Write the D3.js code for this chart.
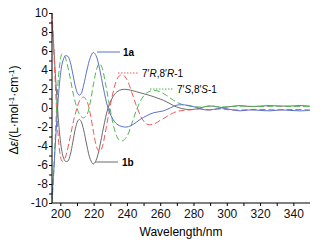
<!DOCTYPE html>
<html>
<head>
<meta charset="utf-8">
<script src="https://cdn.jsdelivr.net/npm/d3@7"></script>
<style>
  body { margin: 0; background: #fff; }
  text { font-family: "Liberation Sans", Arial, sans-serif; }
</style>
</head>
<body>
<div id="chart"></div>
<script>
// wavelengths (nm) and CD values
var wl1a = [195,196,197,198,199,200,201,202,203,204.5,206,207.5,209,210.5,211.5,212.5,214,216,218,219.8,221.5,223.5,226,228.5,231,234,237,240,244,248,252,256,262,266,270,276,282,287,292,297,302,308,314,320,326,332,338,344,350];
var cd1a = [-9.5,-6.8,-3.8,-1.0,1.6,3.4,4.6,5.2,5.5,5.45,4.8,3.6,2.3,1.5,1.35,1.5,2.4,4.0,5.3,5.85,5.5,4.2,2.0,0.1,-1.0,-1.7,-1.95,-2.0,-1.7,-1.2,-0.8,-0.5,-0.3,0.0,0.3,0.3,0.05,-0.2,-0.15,0.0,-0.15,-0.3,-0.2,-0.25,-0.3,-0.2,-0.25,-0.3,-0.25];

var wl1b = [195,196,197,198,199,200,201,202,203,204.5,206,207.5,209,210.5,211.5,212.5,214,216,218,219.8,221.5,223.5,226,228.5,231,234,237,240,244,248,255,262,266,270,276,282,287,292,297,302,308,314,320,326,332,338,344,350];
var cd1b = [9.2,6.6,3.6,0.9,-1.6,-3.4,-4.6,-5.3,-5.6,-5.6,-4.9,-3.6,-2.2,-1.35,-1.2,-1.4,-2.3,-4.0,-5.4,-5.9,-5.5,-4.2,-2.0,-0.1,1.0,1.7,1.95,1.95,1.8,1.6,1.25,0.8,0.45,0.1,-0.15,-0.1,0.15,0.2,0.05,0.15,0.25,0.15,0.2,0.25,0.2,0.2,0.25,0.2];

var wlR = [195,196,197,198,199,200,201,202.5,204,206,208,210,212,214,216,218,220,222,223.5,225,227,229,231,233.5,235.5,237.5,240,243,246,249,252,256,260,264,268,272,278,284,290,296,302,310,320,330,340,350];
var cdR = [10,6.5,2.5,-1.0,-3.6,-5.0,-5.6,-5.4,-4.6,-3.0,-1.3,0.0,0.9,1.15,0.7,-0.6,-2.6,-4.2,-4.6,-4.2,-2.6,-0.7,1.1,2.8,3.4,3.5,3.0,1.6,0.1,-1.1,-1.7,-1.7,-1.3,-0.9,-0.5,-0.3,-0.2,-0.1,-0.2,-0.1,-0.2,-0.2,-0.15,-0.2,-0.15,-0.2];

var wlS = [195,196,197,198,199,200,201,202.5,204,206,208,210,212,214,216,218,220,222,223.5,225,227,229,231,233.5,235.5,237.5,240,243,246,249,252,256,260,264,268,272,278,284,290,296,302,310,320,330,340,350];
var cdS = [-10,-7.0,-3.0,0.8,3.5,5.0,5.7,5.5,4.7,3.1,1.3,0.0,-0.8,-1.05,-0.7,0.6,2.6,4.2,4.7,4.3,2.7,0.8,-1.1,-2.8,-3.4,-3.45,-3.0,-1.6,-0.1,1.0,1.6,1.85,1.7,1.3,0.8,0.45,0.2,0.1,0.2,0.1,0.15,0.2,0.15,0.2,0.15,0.15];

var xTicks = [200,220,240,260,280,300,320,340];
var yTicks = [-10,-8,-6,-4,-2,0,2,4,6,8,10];

var series = [
  {name: "1b", wl: wl1b, cd: cd1b, color: "#6b6b6b", dash: null},
  {name: "R",  wl: wlR,  cd: cdR,  color: "#ee5a5a", dash: "6,3"},
  {name: "S",  wl: wlS,  cd: cdS,  color: "#4fb94f", dash: "6,3"},
  {name: "1a", wl: wl1a, cd: cd1a, color: "#5b6fca", dash: null}
];

var width = 321, height = 246;

var svg = d3.select("#chart").append("svg")
    .attr("width", width)
    .attr("height", height);

var x = d3.scaleLinear().domain([195, 350]).range([52, 310]);
var y = d3.scaleLinear().domain([-10, 10]).range([203, 13]);

// curves
var line = d3.line()
    .x(function(d) { return x(d[0]); })
    .y(function(d) { return y(d[1]); })
    .curve(d3.curveCatmullRom.alpha(0.5));

series.forEach(function(s) {
  var pts = s.wl.map(function(w, i) { return [w, s.cd[i]]; });
  svg.append("path")
      .attr("d", line(pts))
      .attr("fill", "none")
      .attr("stroke", s.color)
      .attr("stroke-width", 1)
      .attr("stroke-dasharray", s.dash);
});

// axes
var xAxis = svg.append("g")
    .attr("transform", "translate(0," + y(-10) + ")")
    .call(d3.axisBottom(x).tickValues(d3.range(200, 350, 10)).tickSize(3)
      .tickFormat(function(d) { return xTicks.indexOf(d) >= 0 ? d : ""; }));
xAxis.select(".domain").attr("d", "M" + x(195) + ",0H" + x(350));

var yAxis = svg.append("g")
    .attr("transform", "translate(" + x(195) + ",0)")
    .call(d3.axisLeft(y).tickValues(d3.range(-10, 11, 1)).tickSize(3)
      .tickFormat(function(d) { return yTicks.indexOf(d) >= 0 ? d : ""; }));
yAxis.select(".domain").attr("d", "M0," + y(10) + "V" + y(-10));

svg.selectAll(".tick text")
    .style("font-size", "12px")
    .attr("font-family", "'Liberation Sans', Arial, sans-serif")
    .attr("fill", "#111");
yAxis.selectAll(".tick text").attr("x", -4);
xAxis.selectAll(".tick text").attr("y", 6);

// axis titles
svg.append("text")
    .attr("x", 181).attr("y", 236)
    .attr("text-anchor", "middle")
    .style("font-size", "12px")
    .text("Wavelength/nm");

var yt = svg.append("text")
    .attr("transform", "translate(18,110) rotate(-90)")
    .attr("text-anchor", "middle")
    .style("font-size", "12px");
yt.append("tspan").text("\u0394");
yt.append("tspan").style("font-style", "italic").text("\u03b5");
yt.append("tspan").text("/(L\u00b7mol");
yt.append("tspan").attr("dy", -4).style("font-size", "8px").text("-1");
yt.append("tspan").attr("dy", 4).text("\u00b7cm");
yt.append("tspan").attr("dy", -4).style("font-size", "8px").text("-1");
yt.append("tspan").attr("dy", 4).text(")");

// labels with leader lines
function leader(x1, x2, yy, color, dash) {
  svg.append("line")
      .attr("x1", x1).attr("x2", x2).attr("y1", yy).attr("y2", yy)
      .attr("stroke", color).attr("stroke-width", 1)
      .attr("stroke-dasharray", dash);
}
leader(97, 120, 52, "#5b6fca", null);
leader(118, 138, 73, "#ee5a5a", "1.5,1.5");
leader(150, 173, 89, "#4fb94f", "1.5,1.5");
leader(95, 118, 162, "#6b6b6b", null);

svg.append("text").attr("x", 123).attr("y", 56)
    .style("font-size", "10px").style("font-weight", "bold").text("1a");
svg.append("text").attr("x", 122).attr("y", 166)
    .style("font-size", "10px").style("font-weight", "bold").text("1b");

function isoLabel(x0, y0, letter) {
  var t = svg.append("text").attr("x", x0).attr("y", y0).style("font-size", "10px");
  t.append("tspan").text("7\u2032");
  t.append("tspan").style("font-style", "italic").text(letter);
  t.append("tspan").text(",8\u2032");
  t.append("tspan").style("font-style", "italic").text(letter);
  t.append("tspan").text("-1");
}
isoLabel(142, 77, "R");
isoLabel(177, 93, "S");
</script>
</body>
</html>
